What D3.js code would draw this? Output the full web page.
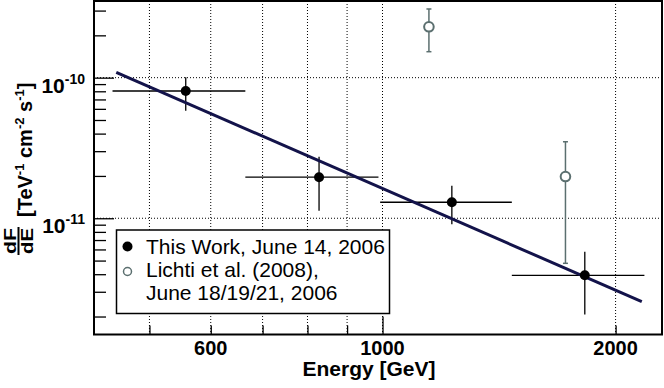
<!DOCTYPE html>
<html>
<head>
<meta charset="utf-8">
<script src="https://cdn.jsdelivr.net/npm/d3@7"></script>
<style>
  body { margin: 0; background: #fff; }
  text { font-family: "Liberation Sans", Arial, Helvetica, sans-serif; }
</style>
</head>
<body>
<div id="chart-area"></div>
<script>
// This work (filled points)
var energy     = [557, 828, 1229, 1825];
var energyLow  = [448, 665, 993, 1469];
var energyHigh = [665, 988, 1469, 2179];
var flux       = [8.04e-11, 1.96e-11, 1.30e-11, 3.93e-12];
var fluxHigh   = [1.006e-10, 2.74e-11, 1.70e-11, 5.78e-12];
var fluxLow    = [5.82e-11, 1.13e-11, 9.06e-12, 2.07e-12];

// Lichti et al. (open points)
var lichtiEnergy   = [1148, 1723];
var lichtiFlux     = [2.30e-10, 1.98e-11];
var lichtiFluxHigh = [3.08e-10, 3.50e-11];
var lichtiFluxLow  = [1.53e-10, 4.78e-12];

// power law fit, end points
var fitEnergy = [453, 2162];
var fitFlux   = [1.092e-10, 2.55e-12];

// ticks
var xTicks = [500, 600, 700, 800, 900, 1000, 2000];
var xLabels = [600, 1000, 2000];
var yMajor = [1e-10, 1e-11];
var yLabels = ["-10", "-11"];
var yMinor = [2e-12, 3e-12, 4e-12, 5e-12, 6e-12, 7e-12, 8e-12, 9e-12,
              2e-11, 3e-11, 4e-11, 5e-11, 6e-11, 7e-11, 8e-11, 9e-11,
              2e-10, 3e-10];

var legendItems = ["This Work, June 14, 2006", "Lichti et al. (2008),", "June 18/19/21, 2006"];

var margin = { left: 94, right: 2, top: 1, bottom: 53.5 },
    width = 664 - margin.left - margin.right,
    height = 388 - margin.top - margin.bottom;
var openColor = "#5b6f6f";

var svg = d3.select("#chart-area")
  .append("svg")
    .attr("width", 664)
    .attr("height", 388);
var g = svg.append("g")
    .attr("transform", "translate(" + margin.left + "," + margin.top + ")");

// Scales
var x = d3.scaleLog().domain([424, 2296]).range([0, width]);
var y = d3.scaleLog().domain([1.49e-12, 3.51e-10]).range([height, 0]);

// Grid
g.selectAll(".vgrid").data(xTicks).enter().append("line")
    .attr("class", "vgrid")
    .attr("x1", d => x(d)).attr("x2", d => x(d))
    .attr("y1", 0).attr("y2", height)
    .attr("stroke", "#000").attr("stroke-width", 1)
    .attr("stroke-dasharray", "1,2");
g.selectAll(".hgrid").data(yMajor).enter().append("line")
    .attr("class", "hgrid")
    .attr("x1", 0).attr("x2", width)
    .attr("y1", d => y(d)).attr("y2", d => y(d))
    .attr("stroke", "#000").attr("stroke-width", 1)
    .attr("stroke-dasharray", "1,2");

// Axes (ticks pointing inward)
var yMinorAxis = g.append("g")
    .call(d3.axisLeft(y).tickValues(yMinor).tickSize(-12).tickFormat(""));
var yMajorAxis = g.append("g")
    .call(d3.axisLeft(y).tickValues(yMajor).tickSize(-20).tickFormat(""));
var xMinorAxis = g.append("g")
    .attr("transform", "translate(0," + height + ")")
    .call(d3.axisBottom(x).tickValues(xTicks.filter(d => d !== 1000)).tickSize(-9).tickFormat(""));
var xMajorAxis = g.append("g")
    .attr("transform", "translate(0," + height + ")")
    .call(d3.axisBottom(x).tickValues([1000]).tickSize(-18).tickFormat(""));
g.selectAll(".domain").remove();
g.selectAll(".tick line").attr("stroke", "#000").attr("stroke-width", 1.3);

// Tick labels
g.selectAll(".xlabel").data(xLabels).enter().append("text")
    .attr("class", "xlabel")
    .attr("x", d => x(d))
    .attr("y", height + 20)
    .attr("text-anchor", "middle")
    .attr("font-size", "20px")
    .attr("font-weight", "bold")
    .text(d => d);

var yl = g.selectAll(".ylabel").data(yMajor).enter().append("text")
    .attr("class", "ylabel")
    .attr("x", -9)
    .attr("y", d => y(d) + 15)
    .attr("text-anchor", "end")
    .attr("font-size", "21px")
    .attr("font-weight", "bold");
yl.append("tspan").text("10");
yl.append("tspan")
    .attr("dy", -9)
    .attr("font-size", "14px")
    .text((d, i) => yLabels[i]);

// X title
svg.append("text")
    .attr("x", 369)
    .attr("y", 376)
    .attr("text-anchor", "middle")
    .attr("font-size", "21px")
    .attr("font-weight", "bold")
    .text("Energy [GeV]");

// Y title: dF/dE [TeV^-1 cm^-2 s^-1]
var yTitle = svg.append("g")
    .attr("transform", "translate(32,217) rotate(-90)");
var unit = yTitle.append("text")
    .attr("x", 0).attr("y", 0)
    .attr("font-size", "20px")
    .attr("font-weight", "bold");
unit.append("tspan").text("[TeV");
unit.append("tspan").attr("dy", -8).attr("font-size", "13px").text("-1");
unit.append("tspan").attr("dy", 8).text(" cm");
unit.append("tspan").attr("dy", -8).attr("font-size", "13px").text("-2");
unit.append("tspan").attr("dy", 8).text(" s");
unit.append("tspan").attr("dy", -8).attr("font-size", "13px").text("-1");
unit.append("tspan").attr("dy", 8).text("]");
yTitle.append("text")
    .attr("x", -24).attr("y", -16)
    .attr("text-anchor", "middle")
    .attr("font-size", "16px").attr("font-weight", "bold")
    .attr("textLength", 26).attr("lengthAdjust", "spacingAndGlyphs")
    .text("dF");
yTitle.append("line")
    .attr("x1", -38).attr("x2", -10)
    .attr("y1", -13.5).attr("y2", -13.5)
    .attr("stroke", "#000").attr("stroke-width", 2);
yTitle.append("text")
    .attr("x", -24).attr("y", 1)
    .attr("text-anchor", "middle")
    .attr("font-size", "16px").attr("font-weight", "bold")
    .attr("textLength", 26).attr("lengthAdjust", "spacingAndGlyphs")
    .text("dE");

// Lichti points
var lichti = d3.range(lichtiEnergy.length);
g.selectAll(".lerr").data(lichti).enter().append("line")
    .attr("class", "lerr")
    .attr("x1", i => x(lichtiEnergy[i])).attr("x2", i => x(lichtiEnergy[i]))
    .attr("y1", i => y(lichtiFluxHigh[i])).attr("y2", i => y(lichtiFluxLow[i]))
    .attr("stroke", openColor).attr("stroke-width", 1.5);
[lichtiFluxHigh, lichtiFluxLow].forEach(function(arr) {
  g.selectAll(null).data(lichti).enter().append("line")
      .attr("x1", i => x(lichtiEnergy[i]) - 2.5).attr("x2", i => x(lichtiEnergy[i]) + 2.5)
      .attr("y1", i => y(arr[i])).attr("y2", i => y(arr[i]))
      .attr("stroke", openColor).attr("stroke-width", 1.5);
});
g.selectAll(".lpt").data(lichti).enter().append("circle")
    .attr("class", "lpt")
    .attr("cx", i => x(lichtiEnergy[i]))
    .attr("cy", i => y(lichtiFlux[i]))
    .attr("r", 4.8)
    .attr("fill", "#fff")
    .attr("stroke", openColor).attr("stroke-width", 2);

// This work points
var pts = d3.range(energy.length);
g.selectAll(".xerr").data(pts).enter().append("line")
    .attr("x1", i => x(energyLow[i])).attr("x2", i => x(energyHigh[i]))
    .attr("y1", i => y(flux[i])).attr("y2", i => y(flux[i]))
    .attr("stroke", "#000").attr("stroke-width", 1.3);
g.selectAll(".yerr").data(pts).enter().append("line")
    .attr("x1", i => x(energy[i])).attr("x2", i => x(energy[i]))
    .attr("y1", i => y(fluxHigh[i])).attr("y2", i => y(fluxLow[i]))
    .attr("stroke", "#000").attr("stroke-width", 1.3);

// Fit line
var line = d3.line()
    .x(d => x(d[0]))
    .y(d => y(d[1]));
g.append("path")
    .attr("d", line(d3.zip(fitEnergy, fitFlux)))
    .attr("fill", "none")
    .attr("stroke", "#13134a")
    .attr("stroke-width", 3);

g.selectAll(".pt").data(pts).enter().append("circle")
    .attr("cx", i => x(energy[i]))
    .attr("cy", i => y(flux[i]))
    .attr("r", 5)
    .attr("fill", "#000");

// Legend
var legend = svg.append("g");
legend.append("rect")
    .attr("x", 116.5).attr("y", 230)
    .attr("width", 273).attr("height", 83.5)
    .attr("fill", "#fff")
    .attr("stroke", "#000").attr("stroke-width", 1.5);
legend.append("circle")
    .attr("cx", 127.5).attr("cy", 246.5).attr("r", 5)
    .attr("fill", "#000");
legend.append("circle")
    .attr("cx", 127.5).attr("cy", 271.5).attr("r", 4)
    .attr("fill", "#fff")
    .attr("stroke", openColor).attr("stroke-width", 1.5);
legend.selectAll(".ltext").data(legendItems).enter().append("text")
    .attr("x", 146)
    .attr("y", (d, i) => 253.5 + i * 23)
    .attr("font-size", "21px")
    .text(d => d);

// Frame
g.append("rect")
    .attr("x", 0).attr("y", 0)
    .attr("width", width).attr("height", height)
    .attr("fill", "none")
    .attr("stroke", "#000").attr("stroke-width", 2);
</script>
</body>
</html>
